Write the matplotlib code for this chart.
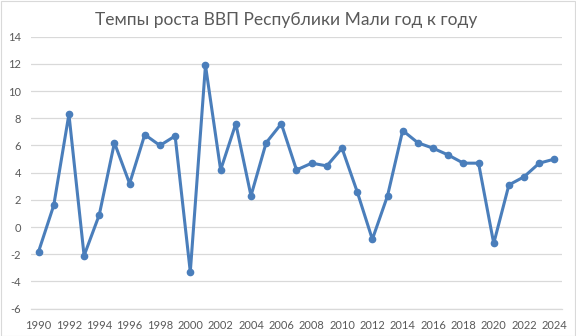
import matplotlib
matplotlib.use("Agg")
import matplotlib.pyplot as plt
from matplotlib.patches import Rectangle

years = list(range(1990, 2025))
growth = [-1.8, 1.6, 8.3, -2.1, 0.9, 6.2, 3.2, 6.8, 6.0, 6.7,
          -3.3, 11.9, 4.2, 7.6, 2.3, 6.2, 7.6, 4.2, 4.7, 4.5,
          5.8, 2.6, -0.9, 2.3, 7.1, 6.2, 5.8, 5.3, 4.7, 4.7,
          -1.2, 3.1, 3.7, 4.7, 5.0]
title = "Темпы роста ВВП Республики Мали год к году"
y_ticks = list(range(-6, 15, 2))

plt.rcParams['font.family'] = ['Lato', 'DejaVu Sans']

fig = plt.figure(figsize=(5.76, 3.36), dpi=100)
ax = fig.add_axes([0.0538, 0.0813, 0.9219, 0.8095])

x = list(range(len(years)))
ax.plot(x, growth, color='#4a7ebb', lw=2.2, marker='o', ms=4.5,
        solid_joinstyle='round', zorder=3)

ax.set_xlim(-0.5, len(years) - 0.5)
ax.set_ylim(-6, 14)
ax.set_yticks(y_ticks)
ax.set_yticklabels([str(v) for v in y_ticks])
xt = [i for i, yv in enumerate(years) if yv % 2 == 0]
ax.set_xticks(xt)
ax.set_xticklabels([str(years[i]) for i in xt])

ax.grid(axis='y', color='#d9d9d9', lw=0.9)
ax.set_axisbelow(True)
for s in ['top', 'right', 'left']:
    ax.spines[s].set_visible(False)
ax.spines['bottom'].set_color('#d9d9d9')
ax.spines['bottom'].set_linewidth(0.9)
ax.tick_params(axis='both', length=0, labelsize=8, colors='#595959', pad=8)
ax.tick_params(axis='y', pad=7)

fig.text(0.497, 0.94, title, ha='center', va='center', fontsize=12.5, color='#595959')

fig.patches.append(Rectangle((0.001, 0.001), 0.997, 0.996, transform=fig.transFigure,
                             fill=False, edgecolor='#d9d9d9', lw=0.8))

fig.savefig('out.png', dpi=100)
